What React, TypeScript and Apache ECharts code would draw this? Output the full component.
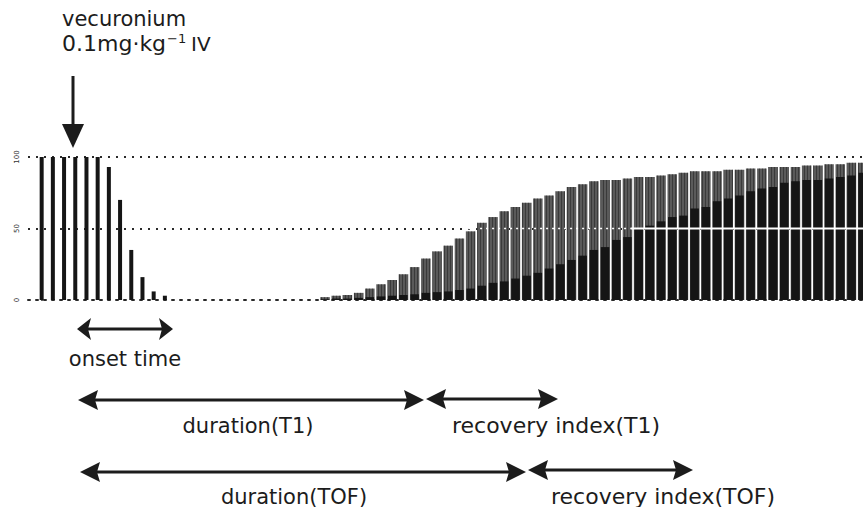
import React, { useEffect, useRef } from "react";
import * as echarts from "echarts";

// single-twitch responses (% of control), one per stimulus slot from slot 0
const singleTwitch = [100, 100, 100, 100, 100, 100, 93, 70, 35, 16, 6, 3];

// train-of-four recovery, first slot index
const TOF_START = 25;
// T1 response (% of control) per TOF train
const tofT1 = [
  2, 3, 3.5, 5, 8, 11, 14, 18, 23, 29, 34, 38, 43, 48, 54, 58, 62, 65, 68, 71,
  73, 76, 79, 81, 83, 84, 84, 85, 86, 86, 87, 88, 89, 90, 90, 90, 91, 91, 92,
  92, 93, 93, 93, 94, 94, 95, 95, 96, 96,
];
// T4 response (% of control) per TOF train
const tofT4 = [
  0.5, 1, 1, 1.5, 2, 2.5, 3, 3.5, 4, 5, 5.5, 6, 7, 8, 10, 12, 13, 15, 17, 19,
  22, 25, 28, 31, 35, 37, 42, 44, 50, 52, 55, 58, 59, 64, 65, 69, 71, 73, 76,
  78, 79, 82, 83, 84, 84, 85, 86, 87, 89,
];
const yTicks = ["0", "50", "100"];
const HALF = 50;

const FONT = '"DejaVu Sans", "Liberation Sans", sans-serif';
const INK = "#1c1c1c";

function hArrow(x1: number, x2: number, y: number, len: number, half: number) {
  return [
    {
      type: "line",
      shape: { x1: x1 + len - 3, y1: y, x2: x2 - len + 3, y2: y },
      style: { stroke: INK, lineWidth: 3 },
    },
    {
      type: "polygon",
      shape: { points: [[x1, y], [x1 + len, y - half], [x1 + len - 3, y], [x1 + len, y + half]] },
      style: { fill: INK },
    },
    {
      type: "polygon",
      shape: { points: [[x2, y], [x2 - len, y - half], [x2 - len + 3, y], [x2 - len, y + half]] },
      style: { fill: INK },
    },
  ];
}

// baseline-positioned text; top-aligned text has its baseline about 0.86 em below y
function txt(text: string, x: number, baseline: number, align: string, size = 21) {
  return {
    type: "text",
    style: {
      text,
      x,
      y: baseline - Math.round(size * 0.86),
      fill: INK,
      fontSize: size,
      lineHeight: size,
      fontFamily: FONT,
      textAlign: align,
      align,
      textVerticalAlign: "top",
      verticalAlign: "top",
    },
  };
}

export default function App() {
  const ref = useRef<HTMLDivElement>(null);
  useEffect(() => {
    if (!ref.current) return;
    const chart = echarts.init(ref.current, undefined, { renderer: "svg" });
    const xMin = -1.22;
    const xMax = 73.33;
    const singleData = singleTwitch.map((v, i) => [i, v]);
    const t1Data = tofT1.map((v, i) => [TOF_START + i + 0.3, v]);
    const t4Data = tofT4.map((v, i) => [TOF_START + i + 0.3, v]);
    const lastX = TOF_START + tofT1.length;
    const solidFrom = TOF_START + 27.6;

    const dotted = { color: "#2a2a2a", width: 2, type: [2, 6] as any };

    chart.setOption({
      animation: false,
      backgroundColor: "#ffffff",
      grid: { left: 28, right: 0, top: 157, bottom: 207, containLabel: false },
      xAxis: [0, 1, 2].map((i) => ({
        type: "value",
        min: xMin,
        max: xMax,
        show: i === 0,
        axisLine: { show: i === 0, lineStyle: dotted },
        axisTick: { show: false },
        axisLabel: { show: false },
        splitLine: { show: false },
      })),
      yAxis: {
        type: "value",
        min: 0,
        max: 100,
        interval: 50,
        axisLine: { show: true, lineStyle: { color: "#2a2a2a", width: 2, type: [2, 3] } },
        axisTick: { show: false },
        axisLabel: {
          rotate: 90,
          fontSize: 7,
          color: "#333",
          margin: 8,
          fontFamily: FONT,
          formatter: (v: number) => yTicks[Math.round(v / 50)] ?? "",
        },
        splitLine: { show: true, lineStyle: dotted },
      },
      series: [
        {
          name: "T1",
          type: "bar",
          xAxisIndex: 0,
          data: t1Data,
          barWidth: 9.5,
          itemStyle: {
            color: "#5a5a5a",
            decal: {
              symbol: "rect",
              symbolSize: 1,
              dashArrayX: [1, 2],
              dashArrayY: [6, 0],
              color: "rgba(20,20,20,0.45)",
            },
          },
        },
        {
          name: "T4",
          type: "bar",
          xAxisIndex: 1,
          data: t4Data,
          barWidth: 8.5,
          itemStyle: { color: "#151515" },
        },
        {
          name: "single twitch",
          type: "bar",
          xAxisIndex: 2,
          data: singleData,
          barWidth: 4,
          itemStyle: { color: "#151515" },
        },
        {
          name: "50% dotted",
          type: "line",
          xAxisIndex: 1,
          z: 5,
          symbol: "none",
          silent: true,
          data: [
            [TOF_START + 12, HALF],
            [solidFrom, HALF],
          ],
          lineStyle: { color: "#ffffff", width: 1.5, type: [2, 4] },
        },
        {
          name: "50% solid",
          type: "line",
          xAxisIndex: 1,
          z: 5,
          symbol: "none",
          silent: true,
          data: [
            [solidFrom, HALF],
            [lastX, HALF],
          ],
          lineStyle: { color: "#ffffff", width: 2, type: "solid" },
        },
      ],
      graphic: [
        txt("vecuronium", 62, 26, "left"),
        txt("0.1mg·kg", 62, 51, "left", 22),
        txt("−1", 167, 43, "left", 13),
        txt("IV", 191, 51, "left", 20),
        {
          type: "line",
          shape: { x1: 73, y1: 76, x2: 73, y2: 128 },
          style: { stroke: INK, lineWidth: 3 },
        },
        {
          type: "polygon",
          shape: { points: [[73, 148], [62, 124], [84, 124]] },
          style: { fill: INK },
        },
        ...hArrow(77, 173, 329, 14, 11),
        txt("onset time", 125, 366, "center"),
        ...hArrow(78, 424, 400, 20, 10),
        txt("duration(T1)", 248, 433, "center"),
        ...hArrow(426, 558, 399, 20, 10),
        txt("recovery index(T1)", 556, 433, "center", 22),
        ...hArrow(80, 526, 472, 20, 10),
        txt("duration(TOF)", 294, 504, "center"),
        ...hArrow(528, 693, 470, 20, 10),
        txt("recovery index(TOF)", 663, 504, "center", 22),
      ],
    });
    return () => chart.dispose();
  }, []);
  return (
    <div
      ref={ref}
      style={{ position: "fixed", left: 0, top: 0, width: 863, height: 507, background: "#fff" }}
    />
  );
}
